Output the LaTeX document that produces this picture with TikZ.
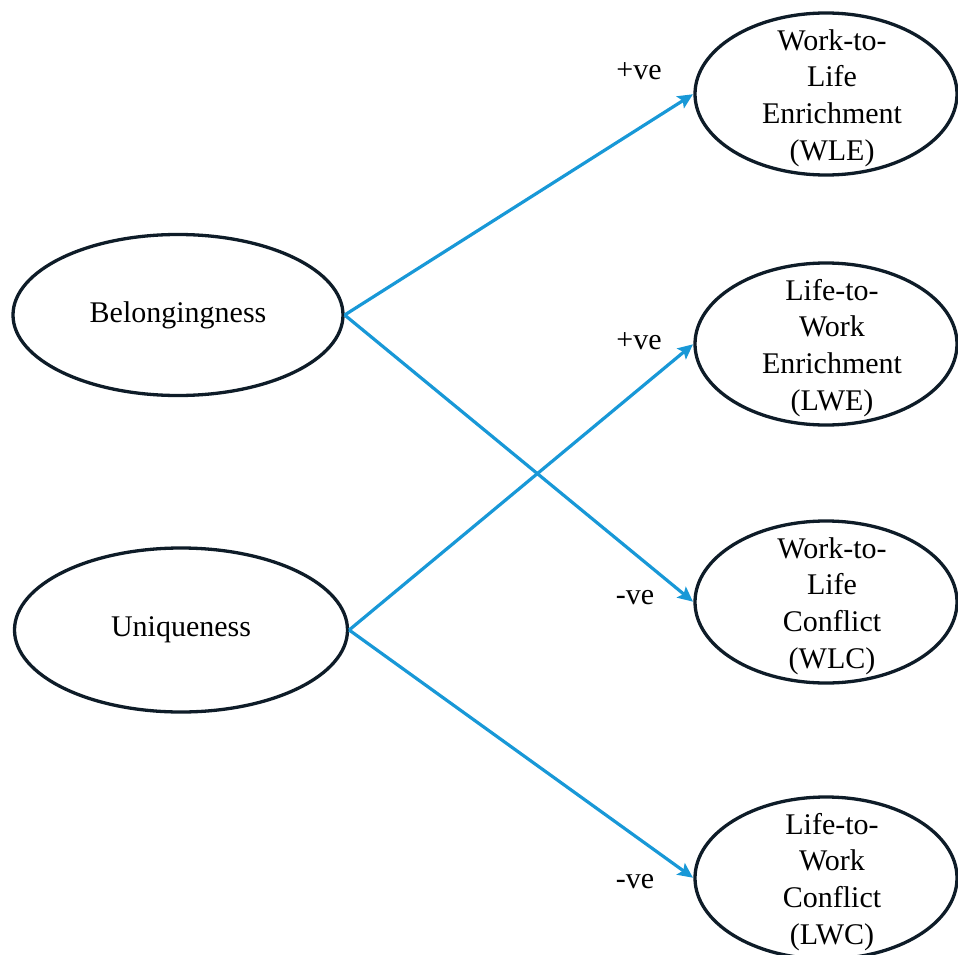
\documentclass[tikz,border=0pt]{standalone}
\usepackage{fontspec}
\setmainfont{Liberation Serif}
\usetikzlibrary{shapes.geometric,arrows.meta}
\definecolor{edgeblue}{RGB}{24,152,215}
\definecolor{ovalline}{RGB}{14,28,40}
\begin{document}
\begin{tikzpicture}[x=1pt,y=-1pt,
  oval/.style={ellipse, draw=ovalline, line width=3.3pt, inner sep=0pt},
  leftoval/.style={oval, minimum width=330pt, minimum height=161pt,
    font=\fontsize{30}{36.5}\selectfont},
  rightoval/.style={oval, minimum width=262pt, minimum height=162pt},
  ovaltext/.style={align=center, inner sep=0pt, font=\fontsize{30}{36.8}\selectfont},
  link/.style={draw=edgeblue, line width=3.2pt,
    -{Stealth[length=15pt,width=14pt,inset=3pt]}, shorten >=0.5pt},
  sign/.style={font=\fontsize{30}{36}\selectfont, inner sep=0pt}]
\useasboundingbox (0,0) rectangle (958,955);
\node[leftoval] (bel) at (178,315) {Belongingness};
\node[leftoval, minimum width=333pt, minimum height=164pt] (uni) at (181,630) {Uniqueness};
\node[rightoval] (wle) at (826,94) {};
\node[rightoval] (lwe) at (826,344) {};
\node[rightoval] (wlc) at (826,602) {};
\node[rightoval] (lwc) at (826,878) {};
\node[ovaltext] (wlet) at (832,98) {Work-to-\\Life\\Enrichment\\(WLE)};
\node[ovaltext] (lwet) at (832,348) {Life-to-\\Work\\Enrichment\\(LWE)};
\node[ovaltext] (wlct) at (832,606) {Work-to-\\Life\\Conflict\\(WLC)};
\node[ovaltext] (lwct) at (832,882) {Life-to-\\Work\\Conflict\\(LWC)};
\draw[link] (bel.east) -- (wle.west);
\draw[link] (bel.east) -- (wlc.west);
\draw[link] (uni.east) -- (lwe.west);
\draw[link] (uni.east) -- (lwc.west);
\node[sign] (p1) at (639,71) {+ve};
\node[sign] (p2) at (639,341) {+ve};
\node[sign] (n1) at (635,598) {-ve};
\node[sign] (n2) at (635,882) {-ve};
\end{tikzpicture}
\end{document}
